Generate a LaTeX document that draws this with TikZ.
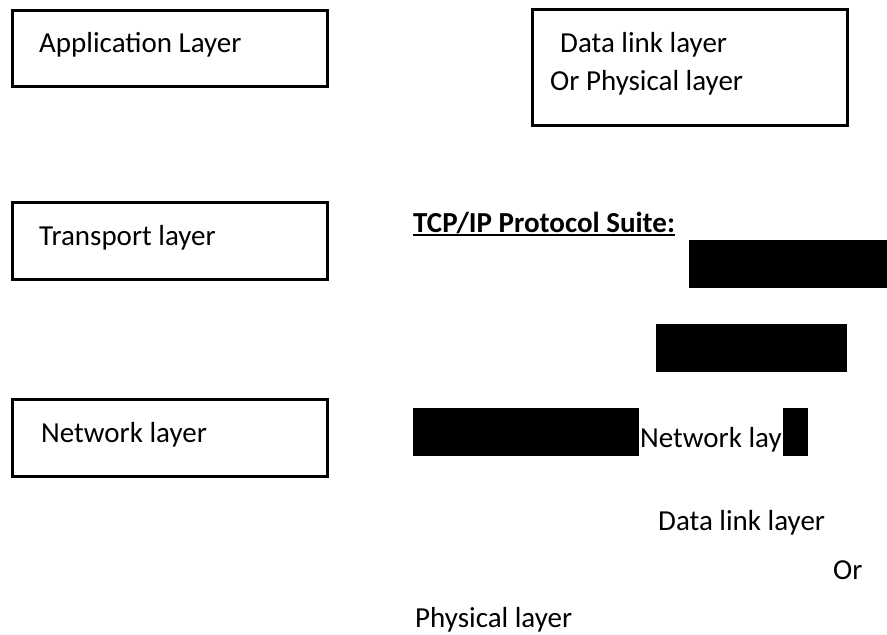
\documentclass[tikz,border=0pt]{standalone}
\usepackage{fontspec}
\setmainfont{Carlito}
\begin{document}
\begin{tikzpicture}[x=1pt,y=-1pt,
  layerbox/.style={draw=black,line width=3pt,fill=none},
  lbl/.style={anchor=base west,inner sep=0pt,font=\fontsize{29}{35}\selectfont},
  redact/.style={fill=black,draw=none}]
\useasboundingbox (0,0) rectangle (887,635);
% boxes
\draw[layerbox] (12,10) rectangle (327,86);
\node[lbl] (app) at (39,52) {Application Layer};
\draw[layerbox] (532,9) rectangle (847,125);
\node[lbl] (dl1) at (560,52) {Data link layer};
\node[lbl] (dl2) at (550,90) {Or Physical layer};
\draw[layerbox] (12,202) rectangle (327,279);
\node[lbl] (tr) at (39,245) {Transport layer};
\draw[layerbox] (12,399) rectangle (327,476);
\node[lbl] (nw) at (41,442) {Network layer};
% right column
\node[lbl,font=\bfseries\fontsize{29}{35}\selectfont] (tcp) at (413,232) {TCP/IP Protocol Suite:};
\draw[line width=2pt] (tcp.base west) ++(0,3) -- ([yshift=-3pt]tcp.base east);
\fill[redact] (689,240) rectangle (887,288);
\fill[redact] (656,324) rectangle (847,372);
\fill[redact] (413,408) rectangle (639,456);
\node[lbl] (nw2) at (640,447) {Network lay};
\fill[redact] (783,408) rectangle (808,456);
\node[lbl] (dl3) at (658,530) {Data link layer};
\node[lbl] (or) at (833,579) {Or};
\node[lbl] (ph) at (415,627) {Physical layer};
\end{tikzpicture}
\end{document}
